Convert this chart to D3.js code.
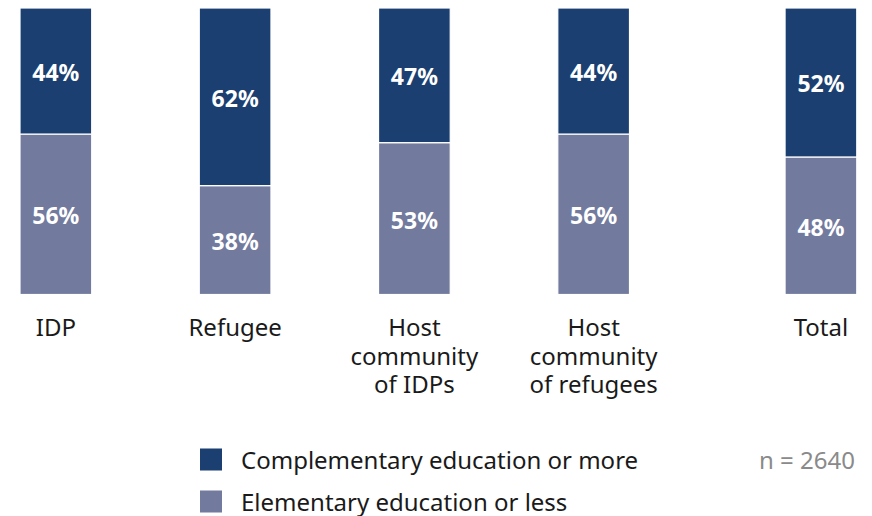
<!DOCTYPE html>
<html>
<head>
<meta charset="utf-8">
<script src="https://cdn.jsdelivr.net/npm/d3@7"></script>
<style>
  html, body { margin: 0; padding: 0; background: #fff; }
  svg { display: block; font-family: "Noto Sans", "Open Sans", sans-serif; }
</style>
</head>
<body>
<svg id="chart" width="872" height="516"></svg>
<script>
// Education level by population group (shares of respondents)
const categories = ["IDP", "Refugee", "Host community of IDPs", "Host community of refugees", "Total"];
const categoryLines = [["IDP"], ["Refugee"], ["Host", "community", "of IDPs"], ["Host", "community", "of refugees"], ["Total"]];
const complementary = [44, 62, 47, 44, 52];
const elementary = [56, 38, 53, 56, 48];
const seriesNames = ["Complementary education or more", "Elementary education or less"];
const colors = ["#1b3f70", "#727a9e"];
const sampleNote = "n = 2640";

const svg = d3.select("#chart");

const plotTop = 8, plotBottom = 294.5;
const y = d3.scaleLinear().domain([0, 100]).range([plotBottom, plotTop]);

// Group bars are evenly spaced; the overall "Total" bar sits a little further right.
const x = d3.scaleBand().domain(categories.slice(0, 4)).range([20, 629.5]).paddingInner(0.6);
const totalShift = 48;
const xPos = c => c === "Total" ? x("Host community of refugees") + x.step() + totalShift : x(c);
const bw = x.bandwidth();

const rows = categories.map((c, i) => ({ cat: c, comp: complementary[i], elem: elementary[i] }));
const stack = d3.stack().keys(["elem", "comp"])(rows);

stack.forEach((layer, li) => {
  const color = li === 0 ? colors[1] : colors[0];
  const g = svg.append("g");
  g.selectAll("rect").data(layer).join("rect")
    .attr("x", d => xPos(d.data.cat))
    .attr("y", d => y(d[1]))
    .attr("width", bw)
    .attr("height", d => y(d[0]) - y(d[1]))
    .attr("fill", color)
    .attr("stroke", "#fff")
    .attr("stroke-width", 1.2);
  g.selectAll("text").data(layer).join("text")
    .attr("x", d => xPos(d.data.cat) + bw / 2)
    .attr("y", d => (y(d[0]) + y(d[1])) / 2 + 10)
    .attr("text-anchor", "middle")
    .attr("fill", "#fff")
    .attr("font-weight", 700)
    .attr("font-size", 23)
    .text(d => (d[1] - d[0]) + "%");
});

// Category labels
categories.forEach((c, i) => {
  const t = svg.append("text")
    .attr("x", xPos(c) + bw / 2)
    .attr("text-anchor", "middle")
    .attr("fill", "#1a1a1a")
    .attr("font-size", 24);
  categoryLines[i].forEach((line, j) => {
    t.append("tspan").attr("x", xPos(c) + bw / 2).attr("y", 336 + j * 28.5).text(line);
  });
});

// Legend
const legend = svg.append("g");
seriesNames.forEach((name, i) => {
  const ly = 448.5 + i * 42;
  legend.append("rect").attr("x", 200).attr("y", ly).attr("width", 22).attr("height", 22).attr("fill", colors[i]);
  legend.append("text").attr("x", 241).attr("y", ly + 20)
    .attr("font-size", 24).attr("fill", "#1a1a1a").text(name);
});
svg.append("text").attr("x", 855).attr("y", 468.5).attr("text-anchor", "end")
  .attr("font-size", 24).attr("fill", "#8a8a8a").text(sampleNote);
</script>
</body>
</html>
